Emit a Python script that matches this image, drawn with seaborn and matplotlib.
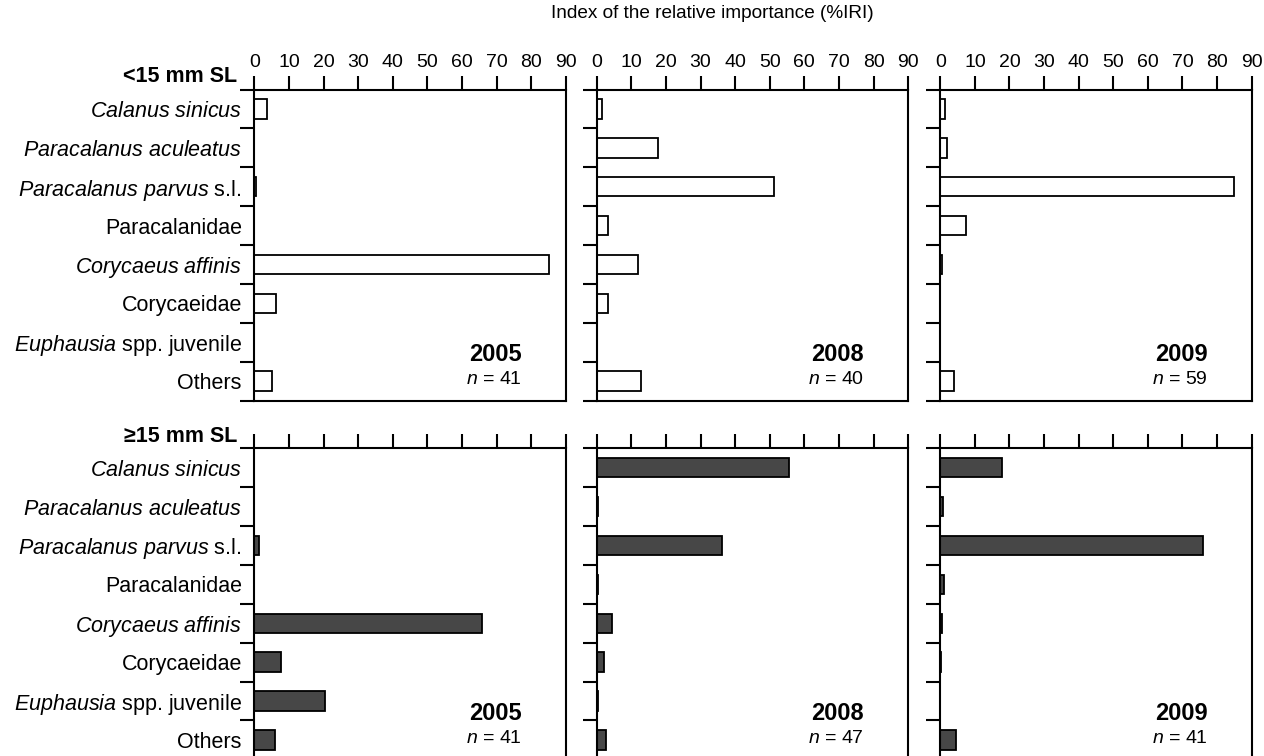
import numpy as np
import matplotlib.pyplot as plt
import seaborn as sns
import pandas as pd

# 饵料类别
prey = ['Calanus sinicus', 'Paracalanus aculeatus', 'Paracalanus parvus s.l.',
        'Paracalanidae', 'Corycaeus affinis', 'Corycaeidae',
        'Euphausia spp. juvenile', 'Others']
prey_labels = [r'$\mathit{Calanus\ sinicus}$', r'$\mathit{Paracalanus\ aculeatus}$',
               r'$\mathit{Paracalanus\ parvus}$ s.l.', 'Paracalanidae',
               r'$\mathit{Corycaeus\ affinis}$', 'Corycaeidae',
               r'$\mathit{Euphausia}$ spp. juvenile', 'Others']
years = ['2005', '2008', '2009']

# <15 mm SL 的 %IRI
small_2005 = [3.7, 0, 0.5, 0, 85.3, 6.4, 0, 5.2]
small_2008 = [1.4, 17.6, 51.2, 3.2, 12.0, 3.3, 0, 12.8]
small_2009 = [1.5, 1.8, 85.0, 7.5, 0.5, 0, 0, 4.0]
small_n = [41, 40, 59]

# >=15 mm SL 的 %IRI
large_2005 = [0, 0, 1.3, 0, 65.8, 7.8, 20.5, 6.0]
large_2008 = [55.7, 0.3, 36.1, 0.3, 4.3, 2.1, 0.3, 2.8]
large_2009 = [17.8, 0.9, 75.8, 1.0, 0.5, 0.2, 0, 4.5]
large_n = [41, 47, 41]

size_classes = ['<15 mm SL', '≥15 mm SL']
xticks = list(range(0, 91, 10))

rows = []
for sc, vals in zip(size_classes, [[small_2005, small_2008, small_2009],
                                   [large_2005, large_2008, large_2009]]):
    for yr, v in zip(years, vals):
        for p, x in zip(prey, v):
            rows.append({'size': sc, 'year': yr, 'prey': p, 'iri': x})
df = pd.DataFrame(rows)

sns.set_style('ticks')
plt.rcParams['font.family'] = ['Liberation Sans', 'DejaVu Sans']
plt.rcParams['mathtext.fontset'] = 'custom'
plt.rcParams['mathtext.rm'] = 'Liberation Sans'
plt.rcParams['mathtext.it'] = 'Liberation Sans:italic'
plt.rcParams['mathtext.bf'] = 'Liberation Sans:bold'
plt.rcParams['axes.edgecolor'] = 'black'
plt.rcParams['axes.linewidth'] = 1.5
plt.rcParams['text.color'] = 'black'
plt.rcParams['xtick.color'] = 'black'
plt.rcParams['ytick.color'] = 'black'
plt.rcParams['xtick.labelcolor'] = 'black'
plt.rcParams['ytick.labelcolor'] = 'black'

W, H = 1264, 756
fig = plt.figure(figsize=(W / 100, H / 100), dpi=100)

col_left = [254.3, 596.7, 940.3]
col_w = 311.4
row_top = [89.5, 448.3]
row_h = 311.0
face = ['white', '#474747']
ns = [small_n, large_n]

for r, sc in enumerate(size_classes):
    for c, yr in enumerate(years):
        ax = fig.add_axes([col_left[c] / W, 1 - (row_top[r] + row_h) / H,
                           col_w / W, row_h / H])
        sub = df[(df['size'] == sc) & (df['year'] == yr)]
        sns.barplot(data=sub, x='iri', y='prey', order=prey, orient='h',
                    color=face[r], edgecolor='black', linewidth=1.3,
                    width=0.5, saturation=1, ax=ax)
        ax.set_xlim(0, 90)
        ax.set_ylim(7.5, -0.5)
        ax.set_xlabel('')
        ax.set_ylabel('')
        ax.xaxis.tick_top()
        ax.set_xticks(xticks)
        ax.tick_params(axis='x', which='major', direction='out', length=10,
                       width=1.5, pad=3, labelsize=14, top=True, bottom=False,
                       labeltop=(r == 0), labelbottom=False)
        # 类别之间的刻度
        ax.set_yticks(np.arange(-0.5, 8, 1))
        ax.set_yticklabels([])
        ax.tick_params(axis='y', which='major', direction='out', length=10, width=1.5)
        ax.set_yticks(np.arange(8), minor=True)
        if c == 0:
            ax.set_yticklabels(prey_labels, minor=True)
        ax.tick_params(axis='y', which='minor', length=0, pad=9, labelsize=15.5)
        for s in ax.spines.values():
            s.set_visible(True)
            s.set_linewidth(1.5)

        ax.text(0.858, 0.148, yr, transform=ax.transAxes, ha='right', va='center',
                fontsize=17, fontweight='bold')
        ax.text(0.858, 0.066, r'$\mathit{n}$ = ' + str(ns[r][c]), transform=ax.transAxes,
                ha='right', va='center', fontsize=14)

fig.text(237 / W, 1 - 77 / H, size_classes[0], ha='right', va='center',
         fontsize=15.5, fontweight='bold')
fig.text(237 / W, 1 - 437 / H, size_classes[1], ha='right', va='center',
         fontsize=15.5, fontweight='bold')
fig.text(712 / W, 1 - 13 / H, 'Index of the relative importance (%IRI)',
         ha='center', va='center', fontsize=13.7)

fig.savefig('out.png', dpi=100)
